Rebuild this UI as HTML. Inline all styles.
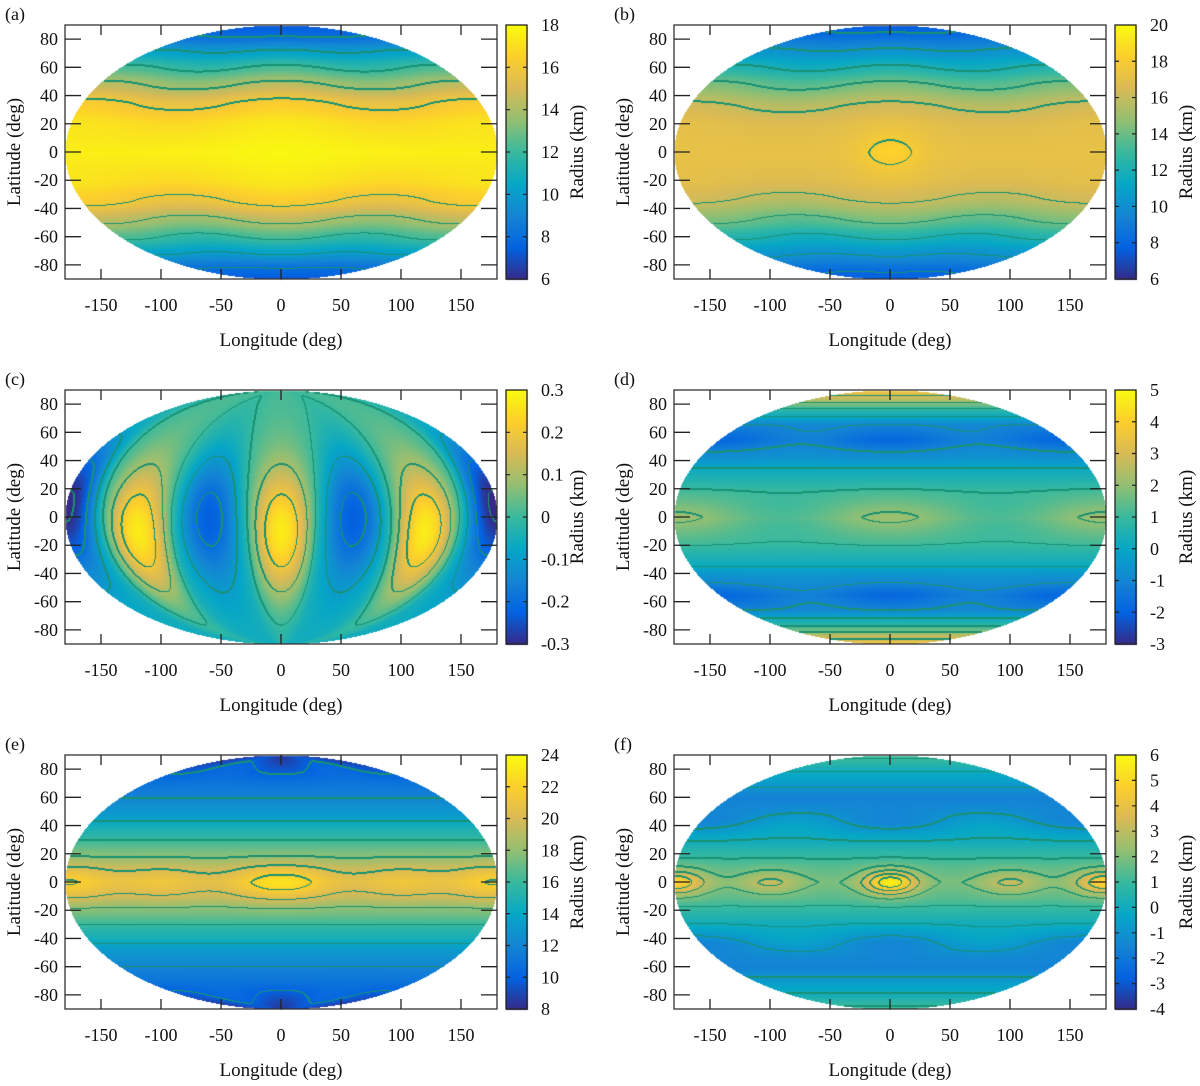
<!DOCTYPE html>
<html><head><meta charset="utf-8"><style>
html,body{margin:0;padding:0;background:#fff;}
#wrap{position:relative;width:1200px;height:1086px;overflow:hidden;}
canvas,svg{position:absolute;left:0;top:0;}
text{font-family:"Liberation Serif",serif;fill:#111;}
</style></head><body>
<div id="wrap">
<canvas id="cv" width="1200" height="1086"></canvas>
<svg id="sv" width="1200" height="1086"></svg>
</div>
<script>
// ---- data ----
const panelLabels = ["(a)","(b)","(c)","(d)","(e)","(f)"];
const lonTicks = [-150,-100,-50,0,50,100,150];
const latTicks = [-80,-60,-40,-20,0,20,40,60,80];
const cbMin = [6,6,-0.3,-3,8,-4];
const cbMax = [18,20,0.3,5,24,6];
const cbStep = [2,2,0.1,1,2,1];
const contourStep = [2,2,0.1,1,2,1];
const profLatA = [0,20,35,48,60,72,82,90];
const profValA = [17.6,17.1,16,14,12,10,8,7.2];
const profLatB = [0,20,33,48,60,73,85,90];
const profValB = [17.2,16.9,16,14,12,10,8,7.5];
const profLatD = [0,15,30,45,55,65,75,85,90];
const profValD = [1.7,1.2,0.4,-0.8,-1.5,-1.0,0.6,2.8,3.6];
const profLatE = [0,10,20,35,50,65,80,90];
const profValE = [19.3,18.8,17.5,15.3,13,11.5,10,9];
const profLatF = [0,10,20,30,45,60,75,90];
const profValF = [1.9,1.5,0.8,0,-1.1,-1.6,-0.3,1.2];

function interp(xs, ys, x){
  x=Math.abs(x);
  for(let i=1;i<xs.length;i++){ if(x<=xs[i]){const t=(x-xs[i-1])/(xs[i]-xs[i-1]);const s=t*t*(3-2*t)*0.35+t*0.65;return ys[i-1]+(ys[i]-ys[i-1])*s;} }
  return ys[ys.length-1];
}
const D=Math.PI/180;
function g(l,p,lc,pc,wl,wp){let dl=l-lc;return Math.exp(-(dl*dl)/(wl*wl)-((p-pc)*(p-pc))/(wp*wp));}
const fields=[
 (l,p)=>interp(profLatA,profValA,p)+0.45*Math.cos(2*l*D)*Math.pow(Math.sin(2*p*D),2)+0.3*g(l,p,0,0,60,25),
 (l,p)=>interp(profLatB,profValB,p)+0.4*Math.cos(2*l*D)*Math.pow(Math.sin(2*p*D),2)+1.2*g(l,p,0,0,28,16),
 (l,p)=>{const c=Math.cos(3*l*D);const pc=(c>0?-12:2)+(Math.abs(l)>150?8:0);const amp=c>0?0.3:(Math.abs(l)>150?0.3:0.21);return amp*c*Math.exp(-Math.pow((p-pc)/48,2))+0.03*Math.sin(p*D)-0.02;},
 (l,p)=>interp(profLatD,profValD,p)+0.45*Math.cos(2*l*D)*Math.exp(-p*p/200)-0.35*Math.cos(2*l*D)*Math.exp(-Math.pow((Math.abs(p)-55)/8,2)),
 (l,p)=>{let v=interp(profLatE,profValE,p);for(const [lc,a] of [[0,3.6],[180,2.8],[-180,2.8],[100,1.9],[-100,1.9]])v+=a*g(l,p,lc,0,lc===0?45:40,13);return v-0.6*Math.cos(2*l*D)*Math.exp(-Math.pow((Math.abs(p)-85)/10,2));},
 (l,p)=>{let v=interp(profLatF,profValF,p);for(const [lc,a] of [[0,3.8],[180,3],[-180,3],[100,1.3],[-100,1.3]])v+=a*g(l,p,lc,0,lc===0?22:25,9);return v-0.5*Math.cos(2*l*D)*Math.exp(-Math.pow((Math.abs(p)-42)/8,2));}
];
const parula=[[53,42,135],[3,99,225],[20,133,212],[6,167,198],[56,185,158],[146,191,115],[217,186,86],[252,206,46],[249,251,14]];
function cmap(t){t=Math.max(0,Math.min(1,t));const s=t*8;const i=Math.min(7,Math.floor(s));const f=s-i;const a=parula[i],b=parula[i+1];return [a[0]+(b[0]-a[0])*f,a[1]+(b[1]-a[1])*f,a[2]+(b[2]-a[2])*f];}

const cv=document.getElementById('cv');const ctx=cv.getContext('2d');
const img=ctx.createImageData(1200,1086);const px=img.data;
for(let k=0;k<6;k++){
  const ox=(k%2)*609, oy=Math.floor(k/2)*365;
  const L=65+ox,R=497+ox,T=25+oy,B=279+oy,cx=(L+R)/2,cy=(T+B)/2,ax=(R-L)/2,by=(B-T)/2;
  const W=R-L+1,H=B-T+1;const F=new Float32Array(W*H).fill(NaN);
  for(let j=0;j<H;j++)for(let i=0;i<W;i++){
    const u=(L+i-cx)/ax,v=(cy-(T+j))/by;if(u*u+v*v>1)continue;
    const lat=90*v,lon=180*u/Math.sqrt(Math.max(1e-6,1-v*v));
    F[j*W+i]=fields[k](lon,lat);
  }
  const mn=cbMin[k],mx=cbMax[k],st=contourStep[k];
  for(let j=0;j<H;j++)for(let i=0;i<W;i++){
    const f=F[j*W+i];if(isNaN(f))continue;
    let c=cmap((f-mn)/(mx-mn));
    const lv=Math.floor((f-mn)/st+1e-9);
    let line=false;
    for(const [di,dj] of [[1,0],[0,1],[-1,0],[0,-1]]){const ii=i+di,jj=j+dj;if(ii<0||jj<0||ii>=W||jj>=H)continue;const g2=F[jj*W+ii];if(isNaN(g2))continue;const l2=Math.floor((g2-mn)/st+1e-9);if(l2!==lv&&(di+dj>0||f>g2)){line=true;}}
    if(line)c=[25,145,115];
    const o=((T+j)*1200+L+i)*4;px[o]=c[0];px[o+1]=c[1];px[o+2]=c[2];px[o+3]=255;
  }
  for(let y=T;y<=B;y++){const c=cmap((B-y)/(B-T));for(let x=506+ox;x<=527+ox;x++){const o=(y*1200+x)*4;px[o]=c[0];px[o+1]=c[1];px[o+2]=c[2];px[o+3]=255;}}
}
ctx.putImageData(img,0,0);

const NS="http://www.w3.org/2000/svg";const sv=document.getElementById('sv');
function el(t,a,txt){const e=document.createElementNS(NS,t);for(const k in a)e.setAttribute(k,a[k]);if(txt!==undefined)e.textContent=txt;sv.appendChild(e);return e;}
function fmt(v){const r=Math.round(v*10)/10;return String(r);}
for(let k=0;k<6;k++){
  const ox=(k%2)*609, oy=Math.floor(k/2)*365;
  const L=65+ox,R=497+ox,T=25+oy,B=279+oy;
  const xs=lon=>L+(lon+180)*(R-L)/360, ys=lat=>T+(90-lat)*(B-T)/180;
  let e=el('text',{x:5+ox,y:20+oy,'font-size':18},panelLabels[k]);
  
  e=el('rect',{x:L,y:T,width:R-L,height:B-T,fill:'none',stroke:'#333','stroke-width':1.3});
  
  for(const t of lonTicks){const x=xs(t);
    e=el('path',{d:`M${x},${B}v-10M${x},${T}v10`,stroke:'#222','stroke-width':1.3});
    
    e=el('text',{x:x,y:311+oy,'font-size':18,'text-anchor':'middle'},String(t));
    }
  for(const t of latTicks){const y=ys(t);
    e=el('path',{d:`M${L},${y}h16M${R},${y}h-16`,stroke:'#222','stroke-width':1.3});
    
    e=el('text',{x:58+ox,y:y+6,'font-size':18,'text-anchor':'end'},String(t));
    }
  e=el('text',{x:281+ox,y:346+oy,'font-size':19,'text-anchor':'middle'},'Longitude (deg)');
  
  e=el('text',{x:0,y:0,'font-size':19,'text-anchor':'middle',transform:`translate(${20+ox},${152+oy}) rotate(-90)`},'Latitude (deg)');
  
  e=el('rect',{x:506+ox,y:T,width:21,height:B-T,fill:'none',stroke:'#222','stroke-width':1.3});
  
  const n=Math.round((cbMax[k]-cbMin[k])/cbStep[k]);
  for(let i=0;i<=n;i++){const v=cbMin[k]+i*cbStep[k];const y=B-(B-T)*i/n;
    if(i>0&&i<n){e=el('path',{d:`M${506+ox},${y}h4M${527+ox},${y}h-4`,stroke:'#222','stroke-width':1.2});
    }
    e=el('text',{x:541+ox,y:y+6,'font-size':18},fmt(v));
    }
  e=el('text',{x:0,y:0,'font-size':19,'text-anchor':'middle',transform:`translate(${583+ox},${152+oy}) rotate(-90)`},'Radius (km)');
  
}
</script>
</body></html>
